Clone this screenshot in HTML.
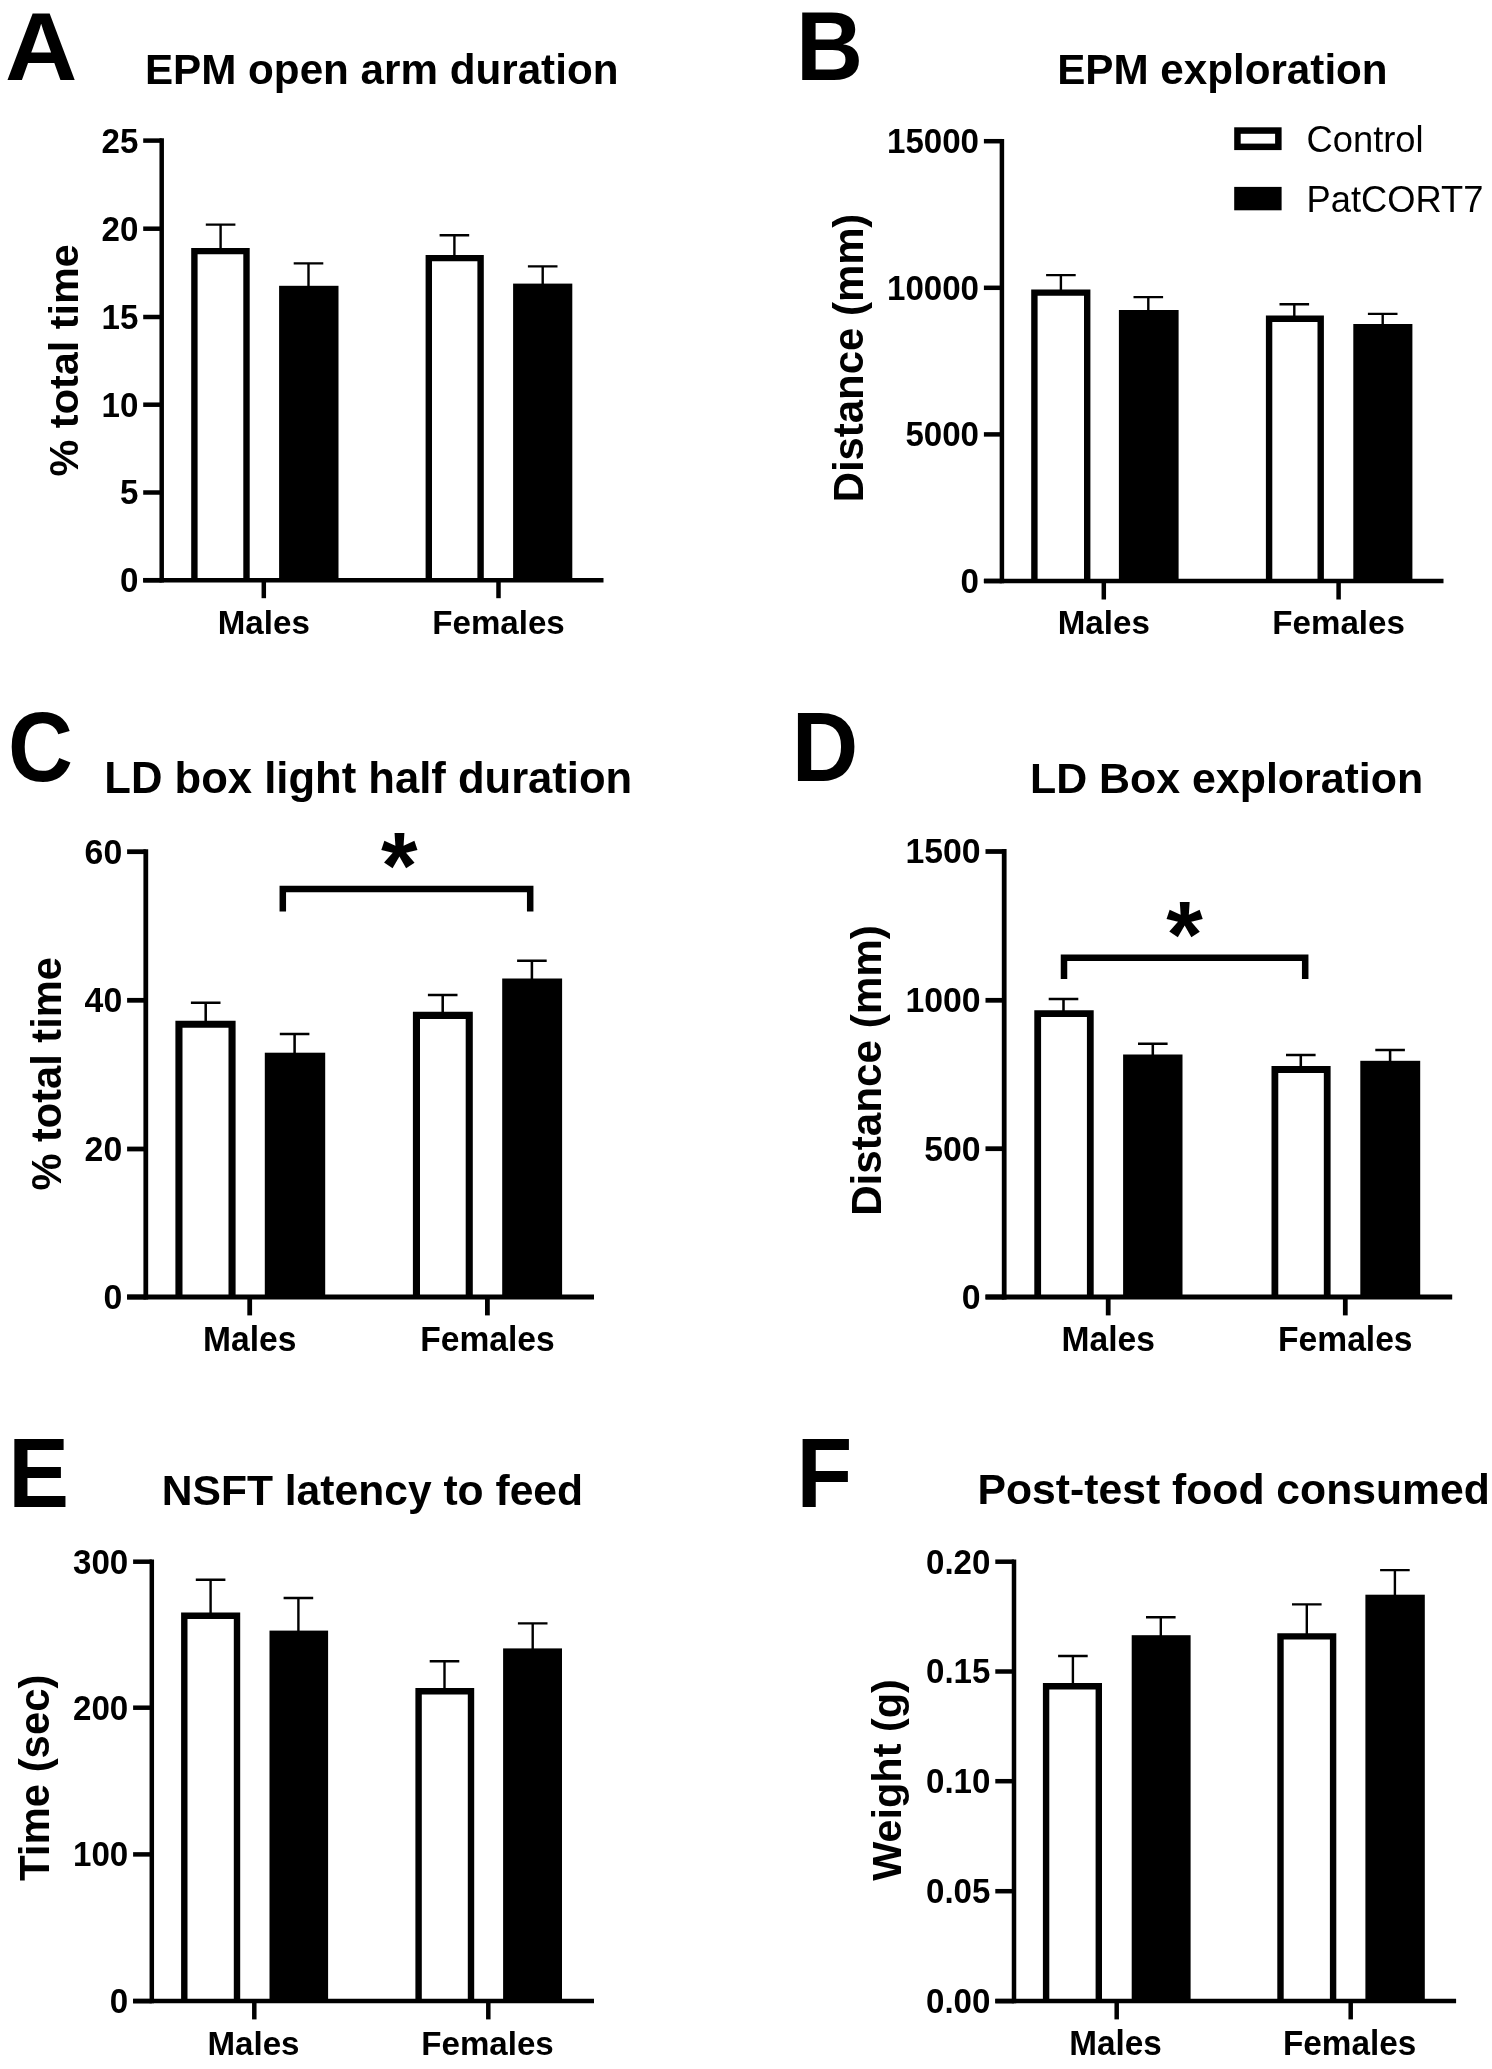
<!DOCTYPE html>
<html lang="en">
<head>
<meta charset="utf-8">
<title>Behavioural tests figure</title>
<style>
html,body{margin:0;padding:0;background:#fff;}
body{width:1492px;height:2069px;overflow:hidden;font-family:"Liberation Sans",sans-serif;}
svg{display:block;will-change:transform;}
svg text{font-family:"Liberation Sans",sans-serif;fill:#000;}
</style>
</head>
<body>
<svg width="1492" height="2069" viewBox="0 0 1492 2069">
<rect width="1492" height="2069" fill="#fff"/>
<!-- panel A : EPM open arm duration -->
<g>
<text transform="translate(5.11 80) scale(1.0016 0.9695)" font-size="100" font-weight="700">A</text>
<text x="381.7" y="83.6" font-size="42.2" font-weight="700" text-anchor="middle">EPM open arm duration</text>
<path d="M194.4 580.2V251.1H246.5V580.2" fill="#fff" stroke="#000" stroke-width="6.4" stroke-linejoin="miter"/>
<rect x="279.1" y="285.8" width="59.4" height="294.4" fill="#000"/>
<path d="M428.8 580.2V258.1H480.6V580.2" fill="#fff" stroke="#000" stroke-width="6.4" stroke-linejoin="miter"/>
<rect x="513.1" y="283.6" width="59.2" height="296.6" fill="#000"/>
<path d="M220.6 248.9V224.6M205.8 224.6H235.4" fill="none" stroke="#000" stroke-width="2.4"/>
<path d="M308.5 286.8V263.4M293.7 263.4H323.3" fill="none" stroke="#000" stroke-width="2.4"/>
<path d="M454.4 255.9V235.3M439.6 235.3H469.2" fill="none" stroke="#000" stroke-width="2.4"/>
<path d="M542.7 284.6V266.4M527.9 266.4H557.5" fill="none" stroke="#000" stroke-width="2.4"/>
<path d="M161.7 138.35V582.45" stroke="#000" stroke-width="4.5" fill="none"/>
<path d="M143.2 580.2H603.5" stroke="#000" stroke-width="4.5" fill="none"/>
<path d="M143.2 140.6H161.7" stroke="#000" stroke-width="4.5" fill="none"/>
<text transform="translate(138.3 152.5) scale(1 1.05)" font-size="33.1" font-weight="700" text-anchor="end">25</text>
<path d="M143.2 228.7H161.7" stroke="#000" stroke-width="4.5" fill="none"/>
<text transform="translate(138.3 240.6) scale(1 1.05)" font-size="33.1" font-weight="700" text-anchor="end">20</text>
<path d="M143.2 317H161.7" stroke="#000" stroke-width="4.5" fill="none"/>
<text transform="translate(138.3 328.9) scale(1 1.05)" font-size="33.1" font-weight="700" text-anchor="end">15</text>
<path d="M143.2 404.7H161.7" stroke="#000" stroke-width="4.5" fill="none"/>
<text transform="translate(138.3 416.6) scale(1 1.05)" font-size="33.1" font-weight="700" text-anchor="end">10</text>
<path d="M143.2 492.5H161.7" stroke="#000" stroke-width="4.5" fill="none"/>
<text transform="translate(138.3 504.4) scale(1 1.05)" font-size="33.1" font-weight="700" text-anchor="end">5</text>
<path d="M143.2 580.2H161.7" stroke="#000" stroke-width="4.5" fill="none"/>
<text transform="translate(138.3 592.1) scale(1 1.05)" font-size="33.1" font-weight="700" text-anchor="end">0</text>
<path d="M263.8 580.2V598.2" stroke="#000" stroke-width="4.5" fill="none"/>
<text transform="translate(263.8 633.8) scale(1 1.03)" font-size="33.1" font-weight="700" text-anchor="middle">Males</text>
<path d="M498.5 580.2V598.2" stroke="#000" stroke-width="4.5" fill="none"/>
<text transform="translate(498.5 633.8) scale(1 1.03)" font-size="33.1" font-weight="700" text-anchor="middle">Females</text>
<text transform="translate(77.8 360.3) rotate(-90)" font-size="41.4" font-weight="700" text-anchor="middle">% total time</text>
</g>
<!-- panel B : EPM exploration -->
<g>
<text transform="translate(796.08 80.2) scale(0.9297 0.9768)" font-size="100" font-weight="700">B</text>
<text x="1222.4" y="83.7" font-size="42.2" font-weight="700" text-anchor="middle">EPM exploration</text>
<path d="M1034.4 581V292.6H1087.2V581" fill="#fff" stroke="#000" stroke-width="6.4" stroke-linejoin="miter"/>
<rect x="1118.9" y="310" width="59.7" height="271" fill="#000"/>
<path d="M1269.1 581V318.7H1320.7V581" fill="#fff" stroke="#000" stroke-width="6.4" stroke-linejoin="miter"/>
<rect x="1353.3" y="324" width="59.1" height="257" fill="#000"/>
<path d="M1060.9 290.4V275.1M1046.1 275.1H1075.7" fill="none" stroke="#000" stroke-width="2.4"/>
<path d="M1148.3 311V297.1M1133.5 297.1H1163.1" fill="none" stroke="#000" stroke-width="2.4"/>
<path d="M1294.3 316.5V304.2M1279.5 304.2H1309.1" fill="none" stroke="#000" stroke-width="2.4"/>
<path d="M1382.7 325V313.9M1367.9 313.9H1397.5" fill="none" stroke="#000" stroke-width="2.4"/>
<path d="M1001.9 138.95V583.25" stroke="#000" stroke-width="4.5" fill="none"/>
<path d="M983.9 581H1443.5" stroke="#000" stroke-width="4.5" fill="none"/>
<path d="M983.9 141.2H1001.9" stroke="#000" stroke-width="4.5" fill="none"/>
<text transform="translate(979 153.1) scale(1 1.05)" font-size="33.1" font-weight="700" text-anchor="end">15000</text>
<path d="M983.9 287.8H1001.9" stroke="#000" stroke-width="4.5" fill="none"/>
<text transform="translate(979 299.7) scale(1 1.05)" font-size="33.1" font-weight="700" text-anchor="end">10000</text>
<path d="M983.9 434.4H1001.9" stroke="#000" stroke-width="4.5" fill="none"/>
<text transform="translate(979 446.3) scale(1 1.05)" font-size="33.1" font-weight="700" text-anchor="end">5000</text>
<path d="M983.9 581H1001.9" stroke="#000" stroke-width="4.5" fill="none"/>
<text transform="translate(979 592.9) scale(1 1.05)" font-size="33.1" font-weight="700" text-anchor="end">0</text>
<path d="M1103.8 581V599.5" stroke="#000" stroke-width="4.5" fill="none"/>
<text transform="translate(1103.8 634.2) scale(1 1.03)" font-size="33.1" font-weight="700" text-anchor="middle">Males</text>
<path d="M1338.6 581V599.5" stroke="#000" stroke-width="4.5" fill="none"/>
<text transform="translate(1338.6 634.2) scale(1 1.03)" font-size="33.1" font-weight="700" text-anchor="middle">Females</text>
<text transform="translate(862.9 358) rotate(-90)" font-size="41.9" font-weight="700" text-anchor="middle">Distance (mm)</text>
<rect x="1237.45" y="130.55" width="40.9" height="16.3" fill="#fff" stroke="#000" stroke-width="6.5"/>
<text transform="translate(1306.6 152.1) scale(1 1.03)" font-size="36.3" font-weight="400">Control</text>
<rect x="1234.2" y="186.9" width="47.4" height="23.4" fill="#000"/>
<text transform="translate(1306.6 211.6) scale(1 1.03)" font-size="36.3" font-weight="400">PatCORT7</text>
</g>
<!-- panel C : LD box light half duration -->
<g>
<text transform="translate(8.01 781.05) scale(0.8993 0.9746)" font-size="100" font-weight="700">C</text>
<text x="368.3" y="793.2" font-size="43.6" font-weight="700" text-anchor="middle">LD box light half duration</text>
<path d="M178.95 1297V1024.25H232.05V1297" fill="#fff" stroke="#000" stroke-width="7.1" stroke-linejoin="miter"/>
<rect x="264.8" y="1052.7" width="60.4" height="244.3" fill="#000"/>
<path d="M416.45 1297V1015.35H469.25V1297" fill="#fff" stroke="#000" stroke-width="7.1" stroke-linejoin="miter"/>
<rect x="502.2" y="978.5" width="59.9" height="318.5" fill="#000"/>
<path d="M205.7 1021.7V1002.7M190.9 1002.7H220.5" fill="none" stroke="#000" stroke-width="2.54"/>
<path d="M294.6 1053.7V1034M279.8 1034H309.4" fill="none" stroke="#000" stroke-width="2.54"/>
<path d="M442.7 1012.8V995M427.9 995H457.5" fill="none" stroke="#000" stroke-width="2.54"/>
<path d="M531.9 979.5V960.7M517.1 960.7H546.7" fill="none" stroke="#000" stroke-width="2.54"/>
<path d="M145.8 849.32V1299.38" stroke="#000" stroke-width="4.77" fill="none"/>
<path d="M127.1 1297H594" stroke="#000" stroke-width="4.77" fill="none"/>
<path d="M127.1 851.7H145.8" stroke="#000" stroke-width="4.77" fill="none"/>
<text transform="translate(122.2 863.6) scale(1 1.05)" font-size="33.8" font-weight="700" text-anchor="end">60</text>
<path d="M127.1 1000.3H145.8" stroke="#000" stroke-width="4.77" fill="none"/>
<text transform="translate(122.2 1012.2) scale(1 1.05)" font-size="33.8" font-weight="700" text-anchor="end">40</text>
<path d="M127.1 1149H145.8" stroke="#000" stroke-width="4.77" fill="none"/>
<text transform="translate(122.2 1160.9) scale(1 1.05)" font-size="33.8" font-weight="700" text-anchor="end">20</text>
<path d="M127.1 1297H145.8" stroke="#000" stroke-width="4.77" fill="none"/>
<text transform="translate(122.2 1308.9) scale(1 1.05)" font-size="33.8" font-weight="700" text-anchor="end">0</text>
<path d="M249.7 1297V1315.4" stroke="#000" stroke-width="4.77" fill="none"/>
<text transform="translate(249.7 1350.7) scale(1 1.03)" font-size="33.6" font-weight="700" text-anchor="middle">Males</text>
<path d="M487.4 1297V1315.4" stroke="#000" stroke-width="4.77" fill="none"/>
<text transform="translate(487.4 1350.7) scale(1 1.03)" font-size="33.6" font-weight="700" text-anchor="middle">Females</text>
<text transform="translate(60.6 1073.9) rotate(-90)" font-size="41.6" font-weight="700" text-anchor="middle">% total time</text>
<path d="M282.8 911.5V889.1H530.2V911.5" fill="none" stroke="#000" stroke-width="6.5" stroke-linejoin="miter"/>
<text x="399.2" y="898" font-size="94" font-weight="700" text-anchor="middle">*</text>
</g>
<!-- panel D : LD Box exploration -->
<g>
<text transform="translate(791.84 781) scale(0.9213 0.9782)" font-size="100" font-weight="700">D</text>
<text x="1226.6" y="792.8" font-size="42.9" font-weight="700" text-anchor="middle">LD Box exploration</text>
<path d="M1037.69 1297V1013.69H1090.31V1297" fill="#fff" stroke="#000" stroke-width="6.78" stroke-linejoin="miter"/>
<rect x="1123.1" y="1054.5" width="59.4" height="242.5" fill="#000"/>
<path d="M1274.89 1297V1069.49H1327.21V1297" fill="#fff" stroke="#000" stroke-width="6.78" stroke-linejoin="miter"/>
<rect x="1360.3" y="1060.8" width="59.9" height="236.2" fill="#000"/>
<path d="M1063.5 1011.3V999M1048.7 999H1078.3" fill="none" stroke="#000" stroke-width="2.54"/>
<path d="M1152.8 1055.5V1043.8M1138 1043.8H1167.6" fill="none" stroke="#000" stroke-width="2.54"/>
<path d="M1300.8 1067.1V1055.1M1286 1055.1H1315.6" fill="none" stroke="#000" stroke-width="2.54"/>
<path d="M1390.1 1061.8V1049.9M1375.3 1049.9H1404.9" fill="none" stroke="#000" stroke-width="2.54"/>
<path d="M1004.2 849.12V1299.38" stroke="#000" stroke-width="4.77" fill="none"/>
<path d="M985.5 1297H1452.2" stroke="#000" stroke-width="4.77" fill="none"/>
<path d="M985.5 851.5H1004.2" stroke="#000" stroke-width="4.77" fill="none"/>
<text transform="translate(980.6 863.4) scale(1 1.05)" font-size="33.8" font-weight="700" text-anchor="end">1500</text>
<path d="M985.5 1000.3H1004.2" stroke="#000" stroke-width="4.77" fill="none"/>
<text transform="translate(980.6 1012.2) scale(1 1.05)" font-size="33.8" font-weight="700" text-anchor="end">1000</text>
<path d="M985.5 1148.7H1004.2" stroke="#000" stroke-width="4.77" fill="none"/>
<text transform="translate(980.6 1160.6) scale(1 1.05)" font-size="33.8" font-weight="700" text-anchor="end">500</text>
<path d="M985.5 1297H1004.2" stroke="#000" stroke-width="4.77" fill="none"/>
<text transform="translate(980.6 1308.9) scale(1 1.05)" font-size="33.8" font-weight="700" text-anchor="end">0</text>
<path d="M1108.2 1297V1315.4" stroke="#000" stroke-width="4.77" fill="none"/>
<text transform="translate(1108.2 1350.7) scale(1 1.03)" font-size="33.6" font-weight="700" text-anchor="middle">Males</text>
<path d="M1345.3 1297V1315.4" stroke="#000" stroke-width="4.77" fill="none"/>
<text transform="translate(1345.3 1350.7) scale(1 1.03)" font-size="33.6" font-weight="700" text-anchor="middle">Females</text>
<text transform="translate(881.4 1070.5) rotate(-90)" font-size="42.2" font-weight="700" text-anchor="middle">Distance (mm)</text>
<path d="M1064 979V957.7H1305.2V979" fill="none" stroke="#000" stroke-width="6.5" stroke-linejoin="miter"/>
<text x="1184.5" y="966.8" font-size="94" font-weight="700" text-anchor="middle">*</text>
</g>
<!-- panel E : NSFT latency to feed -->
<g>
<text transform="translate(8.21 1506.9) scale(0.9108 0.9768)" font-size="100" font-weight="700">E</text>
<text x="372.4" y="1504.8" font-size="42.6" font-weight="700" text-anchor="middle">NSFT latency to feed</text>
<path d="M184.3 2001.1V1615.7H237V2001.1" fill="#fff" stroke="#000" stroke-width="6.4" stroke-linejoin="miter"/>
<rect x="269.5" y="1630.6" width="58.6" height="370.5" fill="#000"/>
<path d="M418.6 2001.1V1691.3H471V2001.1" fill="#fff" stroke="#000" stroke-width="6.4" stroke-linejoin="miter"/>
<rect x="503.1" y="1648.4" width="58.9" height="352.7" fill="#000"/>
<path d="M210.6 1613.5V1579.8M195.8 1579.8H225.4" fill="none" stroke="#000" stroke-width="2.4"/>
<path d="M298.4 1631.6V1598M283.6 1598H313.2" fill="none" stroke="#000" stroke-width="2.4"/>
<path d="M444.5 1689.1V1661.3M429.7 1661.3H459.3" fill="none" stroke="#000" stroke-width="2.4"/>
<path d="M532.7 1649.4V1623.4M517.9 1623.4H547.5" fill="none" stroke="#000" stroke-width="2.4"/>
<path d="M151.8 1559.45V2003.35" stroke="#000" stroke-width="4.5" fill="none"/>
<path d="M133.1 2001.1H594" stroke="#000" stroke-width="4.5" fill="none"/>
<path d="M133.1 1561.7H151.8" stroke="#000" stroke-width="4.5" fill="none"/>
<text transform="translate(128.2 1573.6) scale(1 1.05)" font-size="33.1" font-weight="700" text-anchor="end">300</text>
<path d="M133.1 1707.7H151.8" stroke="#000" stroke-width="4.5" fill="none"/>
<text transform="translate(128.2 1719.6) scale(1 1.05)" font-size="33.1" font-weight="700" text-anchor="end">200</text>
<path d="M133.1 1854.4H151.8" stroke="#000" stroke-width="4.5" fill="none"/>
<text transform="translate(128.2 1866.3) scale(1 1.05)" font-size="33.1" font-weight="700" text-anchor="end">100</text>
<path d="M133.1 2001.1H151.8" stroke="#000" stroke-width="4.5" fill="none"/>
<text transform="translate(128.2 2013) scale(1 1.05)" font-size="33.1" font-weight="700" text-anchor="end">0</text>
<path d="M254.3 2001.1V2019.4" stroke="#000" stroke-width="4.5" fill="none"/>
<text transform="translate(253.5 2054.7) scale(1 1.03)" font-size="33.1" font-weight="700" text-anchor="middle">Males</text>
<path d="M488.3 2001.1V2019.4" stroke="#000" stroke-width="4.5" fill="none"/>
<text transform="translate(487.5 2054.7) scale(1 1.03)" font-size="33.1" font-weight="700" text-anchor="middle">Females</text>
<text transform="translate(49 1777.8) rotate(-90)" font-size="41.9" font-weight="700" text-anchor="middle">Time (sec)</text>
</g>
<!-- panel F : Post-test food consumed -->
<g>
<text transform="translate(796.39 1506.9) scale(0.9126 0.9768)" font-size="100" font-weight="700">F</text>
<text x="1233.7" y="1504.4" font-size="42.7" font-weight="700" text-anchor="middle">Post-test food consumed</text>
<path d="M1046.1 2001.1V1686.3H1098.8V2001.1" fill="#fff" stroke="#000" stroke-width="6.4" stroke-linejoin="miter"/>
<rect x="1131.7" y="1635.2" width="58.9" height="365.9" fill="#000"/>
<path d="M1280.5 2001.1V1636.4H1333.1V2001.1" fill="#fff" stroke="#000" stroke-width="6.4" stroke-linejoin="miter"/>
<rect x="1365.4" y="1594.7" width="59.4" height="406.4" fill="#000"/>
<path d="M1072.9 1684.1V1656M1058.1 1656H1087.7" fill="none" stroke="#000" stroke-width="2.4"/>
<path d="M1160.8 1636.2V1617.3M1146 1617.3H1175.6" fill="none" stroke="#000" stroke-width="2.4"/>
<path d="M1306.8 1634.2V1604.4M1292 1604.4H1321.6" fill="none" stroke="#000" stroke-width="2.4"/>
<path d="M1394.9 1595.7V1570.1M1380.1 1570.1H1409.7" fill="none" stroke="#000" stroke-width="2.4"/>
<path d="M1014 1559.45V2003.35" stroke="#000" stroke-width="4.5" fill="none"/>
<path d="M995.3 2001.1H1456.1" stroke="#000" stroke-width="4.5" fill="none"/>
<path d="M995.3 1561.7H1014" stroke="#000" stroke-width="4.5" fill="none"/>
<text transform="translate(990.4 1573.6) scale(1 1.05)" font-size="33.1" font-weight="700" text-anchor="end">0.20</text>
<path d="M995.3 1671.5H1014" stroke="#000" stroke-width="4.5" fill="none"/>
<text transform="translate(990.4 1683.4) scale(1 1.05)" font-size="33.1" font-weight="700" text-anchor="end">0.15</text>
<path d="M995.3 1781.2H1014" stroke="#000" stroke-width="4.5" fill="none"/>
<text transform="translate(990.4 1793.1) scale(1 1.05)" font-size="33.1" font-weight="700" text-anchor="end">0.10</text>
<path d="M995.3 1891.2H1014" stroke="#000" stroke-width="4.5" fill="none"/>
<text transform="translate(990.4 1903.1) scale(1 1.05)" font-size="33.1" font-weight="700" text-anchor="end">0.05</text>
<path d="M995.3 2001.1H1014" stroke="#000" stroke-width="4.5" fill="none"/>
<text transform="translate(990.4 2013) scale(1 1.05)" font-size="33.1" font-weight="700" text-anchor="end">0.00</text>
<path d="M1116.7 2001.1V2019.4" stroke="#000" stroke-width="4.5" fill="none"/>
<text transform="translate(1115.6 2054.7) scale(1 1.03)" font-size="33.3" font-weight="700" text-anchor="middle">Males</text>
<path d="M1350.7 2001.1V2019.4" stroke="#000" stroke-width="4.5" fill="none"/>
<text transform="translate(1349.6 2054.7) scale(1 1.03)" font-size="33.3" font-weight="700" text-anchor="middle">Females</text>
<text transform="translate(900.6 1780) rotate(-90)" font-size="41.4" font-weight="700" text-anchor="middle">Weight (g)</text>
</g>
</svg>
</body>
</html>
